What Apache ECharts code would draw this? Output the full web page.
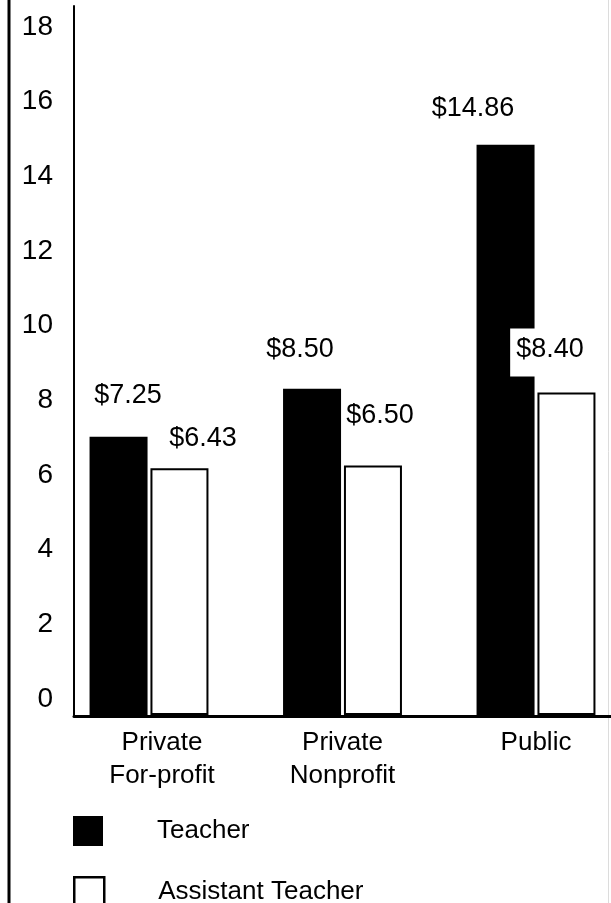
<!DOCTYPE html>
<html>
<head>
<meta charset="utf-8">
<script src="https://cdn.jsdelivr.net/npm/echarts@6/dist/echarts.min.js"></script>
<style>
  html, body { margin: 0; padding: 0; background: #fff; }
  #chart { width: 611px; height: 903px; }
</style>
</head>
<body>
<div id="chart"></div>
<script>
// ---- data ----
const categories = ['Private\nFor-profit', 'Private\nNonprofit', 'Public'];
const seriesNames = ['Teacher', 'Assistant Teacher'];
const teacherWages = [7.25, 8.50, 14.86];
const assistantWages = [6.43, 6.50, 8.40];
const yTickMin = 0;
const yTickMax = 18;
const yTickStep = 2;

// ---- label layout tweaks (dx, distance) ----
const teacherLabelLayout = [[9.5, 28], [-12, 26], [-32.5, 23]];
const assistantLabelLayout = [[23.5, 16], [7, 36], [-16.5, 16]];

const FONT = 'Liberation Sans, Arial, Helvetica, sans-serif';
const money = v => '$' + v.toFixed(2);

const chart = echarts.init(document.getElementById('chart'), null, { renderer: 'canvas' });

const teacherData = teacherWages.map((v, i) => ({
  value: v,
  label: { offset: [teacherLabelLayout[i][0], 0], distance: teacherLabelLayout[i][1] }
}));
const assistantData = assistantWages.map((v, i) => {
  const item = {
    value: v,
    label: { offset: [assistantLabelLayout[i][0], 0], distance: assistantLabelLayout[i][1] }
  };
  if (i === 2) {
    item.label.backgroundColor = '#fff';
    item.label.padding = [7, 6, 14, 6];
  }
  return item;
});

const catData = categories.map((c, i) => i === 0
  ? { value: c, textStyle: { padding: [0, 0, 0, 26] } }
  : c);

const legendCommon = {
  orient: 'horizontal', left: 73, padding: 0,
  itemWidth: 30, itemHeight: 30, icon: 'rect',
  textStyle: { fontSize: 26, color: '#000', fontFamily: FONT, padding: [0, 0, 0, 49] }
};

chart.setOption({
  animation: false,
  backgroundColor: '#fff',
  textStyle: { fontFamily: FONT, color: '#000' },
  grid: [
    { left: 52.25, width: 580.5, top: 5, bottom: 188, containLabel: false, outerBoundsMode: 'none' },
    { left: 74, right: 0, top: 27, bottom: 204, containLabel: false, outerBoundsMode: 'none' },
    { left: 74, right: 0, top: 6, bottom: 187, containLabel: false, outerBoundsMode: 'none' }
  ],
  xAxis: [
    {
      gridIndex: 0, type: 'category', data: catData,
      axisLine: { show: false }, axisTick: { show: false }, splitLine: { show: false },
      axisLabel: { fontSize: 26, lineHeight: 33, margin: 11, color: '#000', fontFamily: FONT, interval: 0 }
    },
    { gridIndex: 1, type: 'value', min: 0, max: 1, show: false },
    {
      gridIndex: 2, type: 'value', min: 0, max: 1,
      axisLine: { show: true, onZero: false, lineStyle: { color: '#000', width: 3 } },
      axisTick: { show: false }, axisLabel: { show: false }, splitLine: { show: false }
    }
  ],
  yAxis: [
    { gridIndex: 0, type: 'value', min: 0, max: 18.5, show: false },
    {
      gridIndex: 1, type: 'value', min: yTickMin, max: yTickMax, interval: yTickStep,
      axisLine: { show: false }, axisTick: { show: false }, splitLine: { show: false },
      axisLabel: { fontSize: 28, margin: 21, color: '#000', fontFamily: FONT }
    },
    {
      gridIndex: 2, type: 'value', min: 0, max: 1,
      axisLine: { show: true, onZero: false, lineStyle: { color: '#000', width: 2 } },
      axisTick: { show: false }, axisLabel: { show: false }, splitLine: { show: false }
    }
  ],
  legend: [
    Object.assign({}, legendCommon, {
      top: 816,
      data: [{ name: seriesNames[0], itemStyle: { color: '#000' } }]
    }),
    Object.assign({}, legendCommon, {
      top: 876,
      data: [{ name: seriesNames[1], itemStyle: { color: '#fff', borderColor: '#000', borderWidth: 2.5 } }]
    })
  ],
  graphic: [
    { type: 'line', shape: { x1: 9, y1: 0, x2: 9, y2: 903 }, style: { stroke: '#000', lineWidth: 3 } },
    { type: 'line', shape: { x1: 608.5, y1: 0, x2: 608.5, y2: 903 }, style: { stroke: '#dcdcdc', lineWidth: 1 } }
  ],
  series: [
    {
      type: 'bar', name: seriesNames[0], xAxisIndex: 0, yAxisIndex: 0,
      data: teacherData, barWidth: 58, barGap: '5%',
      itemStyle: { color: '#000' },
      label: { show: true, position: 'top', fontSize: 27, color: '#000', fontFamily: FONT,
               formatter: p => money(p.value) }
    },
    {
      type: 'bar', name: seriesNames[1], xAxisIndex: 0, yAxisIndex: 0,
      data: assistantData, barWidth: 58, barGap: '5%',
      itemStyle: { color: '#fff', borderColor: '#000', borderWidth: 2 },
      label: { show: true, position: 'top', fontSize: 27, color: '#000', fontFamily: FONT,
               formatter: p => money(p.value) }
    }
  ]
});
</script>
</body>
</html>
